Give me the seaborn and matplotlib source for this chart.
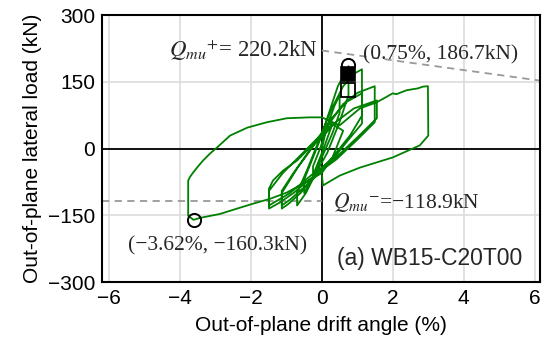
import numpy as np
import matplotlib.pyplot as plt
import seaborn as sns

# Ciclos de la zona central (deriva %, carga kN)
drift_cyc = [0.0, 0.10, 0.25, 0.25, 0.05, -0.10, -0.25, -0.25, -0.05,
             0.15, 0.35, 0.50, 0.50, 0.30, 0.00, -0.25, -0.50, -0.50, -0.30, -0.05,
             0.20, 0.45, 0.75, 0.75, 0.50, 0.15, -0.20, -0.45, -0.70, -0.70, -0.40, -0.05,
             0.25, 0.60, 0.95, 1.13, 1.13, 0.80, 0.30, -0.20, -0.60, -0.95, -1.13, -1.13, -0.80, -0.40, -0.05,
             0.30, 0.70, 1.13, 1.13, 0.70, 0.20, -0.40, -0.90, -1.13, -1.13, -0.70, -0.20,
             0.20, 0.60, 1.00, 1.49, 1.49, 1.00, 0.40, -0.20, -0.80, -1.20, -1.49, -1.49, -1.38, -1.10, -0.70, -0.34, 0.00,
             0.40, 0.90, 1.55, 1.55, 1.00, 0.40, -0.30, -0.90, -1.49, -1.49, -1.10, -0.60, -0.10,
             0.30, 0.60, 0.30, 0.00]
load_cyc = [0, 35, 70, 45, 0, -30, -60, -40, 0,
            50, 95, 120, 80, 35, -20, -65, -100, -70, -30, 20,
            80, 140, 185, 120, 60, -10, -60, -100, -128, -100, -45, 25,
            85, 140, 170, 178, 74, 30, -20, -60, -100, -125, -135, -95, -55, -10, 30,
            70, 105, 124, 56, 15, -35, -80, -115, -128, -100, -45, 10,
            55, 100, 125, 140, 59, 20, -25, -60, -100, -122, -135, -90, -72, -50, -27, 2, 25,
            60, 90, 108, 68, 25, -20, -60, -100, -128, -95, -55, -15, 25,
            55, 40, -20, -55]

# Ciclo grande negativo
drift_neg = [-0.53, -0.99, -1.46, -1.94, -2.39, -2.87, -3.44, -3.62, -3.77, -3.77,
             -3.72, -3.63, -3.50, -3.35, -3.15, -2.96, -2.59, -2.10, -1.55, -0.99, -0.34, 0.00]
load_neg = [-79, -99, -113, -124, -135, -147, -156, -160.3, -151, -72,
            -64, -54, -41, -27, -11, 2, 29, 47, 59, 68, 70, 70]

# Ciclo grande positivo
drift_pos = [0.50, 1.07, 1.55, 2.00, 2.10, 2.39, 2.70, 2.85, 2.99, 3.00,
             2.76, 2.00, 1.07, 0.50, 0.03, 0.00]
load_pos = [52, 90, 104, 124, 122, 131, 135, 139, 140, 29,
            7, -20, -43, -61, -83, -60]

# Puntos característicos
pk_pos = [0.75, 186.7]
pk_neg = [-3.62, -160.3]
sq_fill = [0.75, 167]
sq_open = [0.75, 131]
qmu_pos = 220.2
qmu_neg = -118.9
qmu_pos_end = [6.2, 152]

drift = drift_cyc + drift_neg + drift_pos
load = load_cyc + load_neg + load_pos

sns.set_theme(style="whitegrid")
plt.rcParams['font.family'] = ['Liberation Sans', 'DejaVu Sans']
plt.rcParams['mathtext.fontset'] = 'stix'

fig = plt.figure(figsize=(5.45, 3.47), dpi=100)
ax = fig.add_axes([102 / 545, 1 - 282 / 347, 438 / 545, 267 / 347])

ax.axhline(0, color='black', lw=1.3, zorder=2)
ax.axvline(0, color='black', lw=1.3, zorder=2)

ax.plot([-6.2, 0], [qmu_neg, qmu_neg], color='#999999', lw=1.3, ls=(0, (4, 3)), zorder=2)
ax.plot([0, qmu_pos_end[0]], [qmu_pos, qmu_pos_end[1]], color='#999999', lw=1.3, ls=(0, (4, 3)), zorder=2)

sns.lineplot(x=drift, y=load, sort=False, estimator=None, color='green', lw=1.3, ax=ax, zorder=3)

ax.plot(*pk_pos, 'o', ms=9.5, mfc='none', mec='black', mew=1.4, zorder=4)
ax.plot(*sq_fill, 's', ms=9.5, mfc='black', mec='black', mew=1.2, zorder=5)
ax.plot(*sq_open, 's', ms=9.5, mfc='none', mec='black', mew=1.3, zorder=5)
ax.plot(*pk_neg, 'o', ms=9.5, mfc='none', mec='black', mew=1.4, zorder=4)

serif = ['Liberation Serif', 'DejaVu Serif']
ax.text(-0.1, 220, r'$Q_{mu}{}^{+}$= 220.2kN', family=serif, fontsize=16.5, ha='right', va='center')
ax.text(1.15, 210, '(0.75%, 186.7kN)', family=serif, fontsize=15.5, ha='left', va='center')
ax.text(0.31, -122, r'$Q_{mu}{}^{-}$=' + '\u2212118.9kN', family=serif, fontsize=15.5,
        ha='left', va='center')
ax.text(-2.93, -219, '(\u22123.62%, \u2212160.3kN)', family=serif, fontsize=15.5, ha='center', va='center')
ax.text(5.66, -248, '(a) WB15-C20T00', fontsize=16.5, ha='right', va='center')

ax.set_xlim(-6.2, 6.15)
ax.set_ylim(-300, 300)
ax.set_xticks([-6, -4, -2, 0, 2, 4, 6])
ax.set_yticks([-300, -150, 0, 150, 300])
ax.tick_params(labelsize=15, length=0, pad=5, colors='black')
ax.grid(True, color='#dcdcdc', lw=1.2)
for s in ax.spines.values():
    s.set_color('black')
    s.set_linewidth(1.5)
ax.set_xlabel('Out-of-plane drift angle (%)', fontsize=15, labelpad=6, color='black')
ax.set_ylabel('Out-of-plane lateral load (kN)', fontsize=15, labelpad=4, color='black')

fig.savefig('out.png', dpi=100)
